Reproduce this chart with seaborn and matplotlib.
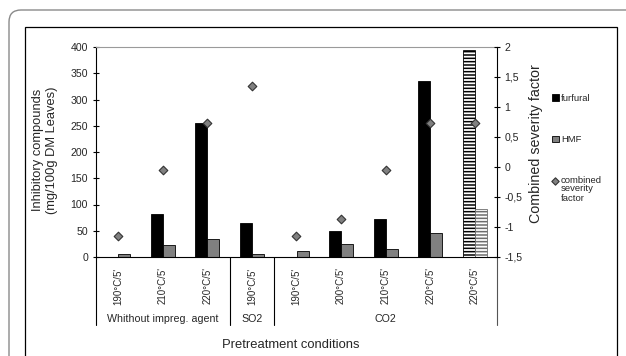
import matplotlib
matplotlib.use("Agg")
import matplotlib.pyplot as plt
import matplotlib.patches as mpatches
from matplotlib.transforms import IdentityTransform, blended_transform_factory
from matplotlib.lines import Line2D
import seaborn as sns
import pandas as pd
import numpy as np

# ---- data ----
conditions = ["c1", "c2", "c3", "c4", "c5", "c6", "c7", "c8", "c9"]
tick_labels = ["190°C/5'", "210°C/5'", "220°C/5'", "190°C/5'", "190°C/5'",
               "200°C/5'", "210°C/5'", "220°C/5'", "220°C/5'"]
furfural = [0, 81, 256, 65, 0, 49, 72, 335, 395]
hmf = [5, 22, 35, 5, 11, 25, 15, 46, 91]
severity = [-1.15, -0.05, 0.74, 1.35, -1.15, -0.86, -0.05, 0.74, 0.74]
groups = ["Whithout impreg. agent", "SO2", "CO2"]
group_spans = [(0, 2), (3, 3), (4, 8)]
left_ticks = [0, 50, 100, 150, 200, 250, 300, 350, 400]
right_ticks = [2, 1.5, 1, 0.5, 0, -0.5, -1, -1.5]

sns.set_theme(style="white")
plt.rcParams["font.family"] = ["Liberation Sans", "DejaVu Sans"]
plt.rcParams["hatch.linewidth"] = 1.1

df = pd.DataFrame({
    "cond": conditions * 2,
    "value": furfural + hmf,
    "compound": ["furfural"] * 9 + ["HMF"] * 9,
})
df_sev = pd.DataFrame({"cond": conditions, "sev": severity})

fig = plt.figure(figsize=(6.26, 3.56), dpi=100)
ax = fig.add_axes([96 / 626, 99 / 356, 401 / 626, 210 / 356])

sns.barplot(data=df, x="cond", y="value", hue="compound", order=conditions,
            hue_order=["furfural", "HMF"],
            palette={"furfural": "black", "HMF": "#808080"},
            width=0.54, errorbar=None, legend=False, ax=ax,
            edgecolor="black", linewidth=0.6)

# hatched last bars
pf = ax.containers[0].patches[8]
pf.set_facecolor("white"); pf.set_edgecolor("black"); pf.set_hatch("-----")
ph = ax.containers[1].patches[8]
ph.set_facecolor("white"); ph.set_edgecolor("#6e6e6e"); ph.set_hatch("-----")

ax2 = ax.twinx()
sns.stripplot(data=df_sev, x="cond", y="sev", order=conditions, jitter=False,
              marker="D", size=4.4, color="#808080", edgecolor="#333333",
              linewidth=0.8, ax=ax2, zorder=5)

ax.set_xlim(-0.5, 8.5)
ax.set_ylim(0, 400)
ax2.set_ylim(-1.5, 2)
ax.set_yticks(left_ticks)
ax.set_yticklabels([str(t) for t in left_ticks], fontsize=7.6)
ax2.set_yticks(right_ticks)
ax2.set_yticklabels([("%g" % t).replace(".", ",") for t in right_ticks], fontsize=7.6)

ax.set_xticks(range(9))
ax.set_xticklabels(tick_labels, rotation=90, fontsize=7, va="top")
ax.set_xticks(np.arange(-0.5, 9, 1), minor=True)
ax.tick_params(axis="x", which="major", length=0, pad=7.5)
ax.tick_params(axis="x", which="minor", length=33, width=0.8, direction="out", color="black")
ax.tick_params(axis="y", which="major", length=4.5, width=0.8, direction="inout", color="black", pad=3.5)
ax2.tick_params(axis="y", which="major", length=4.5, width=0.8, direction="inout", color="black", pad=3)
ax2.set_xlabel("")
ax.set_xlabel("")

for sp in ["top", "right", "left", "bottom"]:
    ax2.spines[sp].set_visible(sp == "right")
ax2.spines["right"].set_color("black"); ax2.spines["right"].set_linewidth(0.8)
ax.spines["right"].set_visible(False)
ax.spines["top"].set_color("#9a9a9a"); ax.spines["top"].set_linewidth(0.8)
ax.spines["left"].set_color("black"); ax.spines["left"].set_linewidth(0.8)
ax.spines["bottom"].set_color("black"); ax.spines["bottom"].set_linewidth(0.8)

ax.set_ylabel("Inhibitory compounds\n(mg/100g DM Leaves)", fontsize=9.3, linespacing=1.25)
ax.yaxis.set_label_coords(-0.095, 0.51)
ax2.set_ylabel("Combined severity factor", fontsize=10.3)
ax2.yaxis.set_label_coords(1.08, 0.538)

# group separator lines and labels
tr = blended_transform_factory(ax.transData, ax.transAxes)
for xb, col in [(-0.5, "black"), (2.5, "black"), (3.5, "black"), (8.5, "#555555")]:
    ax.add_line(Line2D([xb, xb], [0, -0.325], transform=tr, color=col, lw=0.8, clip_on=False))
for g, (a, b) in zip(groups, group_spans):
    ax.text((a + b) / 2, -0.295, g, transform=tr, ha="center", va="center", fontsize=7.7)

fig.text(291 / 626, 1 - 345 / 356, "Pretreatment conditions", ha="center", va="center", fontsize=9.4)

# legend
handles = [ax.containers[0].patches[1], ax.containers[1].patches[1], ax2.collections[0]]
labels = ["furfural", "HMF", "combined"]
leg = fig.legend(handles, labels, loc="upper left", bbox_to_anchor=(552 / 626, 1 - 94 / 356),
                 frameon=False, fontsize=6.8, handlelength=0.7, handleheight=0.7,
                 handletextpad=0.25, labelspacing=3.4, borderaxespad=0, borderpad=0,
                 markerscale=0.85)
fig.canvas.draw()
bb = leg.get_texts()[2].get_window_extent()
fig.text(bb.x0 / 626, (bb.y0 + 1) / 356, "severity\nfactor", ha="left", va="top",
         fontsize=6.8, linespacing=1.15)

# frames
outer = mpatches.FancyBboxPatch((9, -60), 700, 346 + 60, boxstyle="round,pad=0,rounding_size=12",
                                transform=IdentityTransform(), fill=False,
                                edgecolor="#8a8a8a", linewidth=1.0)
inner = mpatches.Rectangle((25, -60), 592, 329 + 60, transform=IdentityTransform(),
                           fill=False, edgecolor="black", linewidth=0.9)
fig.add_artist(outer)
fig.add_artist(inner)

fig.savefig("out.png", dpi=100)
